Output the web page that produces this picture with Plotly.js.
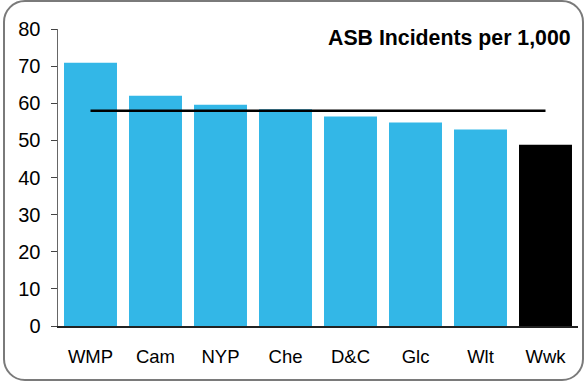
<!DOCTYPE html>
<html>
<head>
<meta charset="utf-8">
<script src="https://cdn.plot.ly/plotly-3.0.1.min.js"></script>
<style>
html,body{margin:0;padding:0;background:#fff;}
#wrap{position:relative;width:585px;height:382px;}
#chart{position:absolute;left:0;top:0;width:585px;height:382px;}
#frame{position:absolute;left:3px;top:0px;width:581px;height:381px;box-sizing:border-box;border:2px solid #7a7a7a;border-radius:22px;pointer-events:none;}
</style>
</head>
<body>
<div id="wrap"><div id="chart"></div><div id="frame"></div></div>
<script>
const categories = ["WMP","Cam","NYP","Che","D&C","Glc","Wlt","Wwk"];
const incidents = [70.9, 62.0, 59.6, 58.4, 56.4, 54.8, 52.9, 48.8];
const averageLine = [58, 58, 58, 58, 58, 58, 58, 58];
const barColors = ["#33B7E7","#33B7E7","#33B7E7","#33B7E7","#33B7E7","#33B7E7","#33B7E7","#000000"];
const yTicks = [0,10,20,30,40,50,60,70,80];
const titleText = "ASB Incidents per 1,000";

const traces = [
  {type:"bar", x:categories, y:incidents, marker:{color:barColors, line:{width:0}}, hoverinfo:"skip"},
  {type:"scatter", mode:"lines", x:categories, y:averageLine, line:{color:"#000000", width:2.5}, hoverinfo:"skip"}
];

const layout = {
  width:585, height:382,
  margin:{l:58, r:7, t:29, b:56},
  paper_bgcolor:"rgba(0,0,0,0)", plot_bgcolor:"rgba(0,0,0,0)",
  showlegend:false,
  bargap:0.185,
  font:{family:"Liberation Sans, Arial, sans-serif", color:"#000"},
  xaxis:{
    type:"category", showgrid:false, zeroline:false,
    showline:true, linecolor:"#222", linewidth:1.5,
    ticks:"", tickfont:{size:18.5, color:"#000"}, ticklabelstandoff:13,
    fixedrange:true
  },
  yaxis:{
    range:[0,80], tickvals:yTicks, showgrid:false, zeroline:false,
    showline:true, linecolor:"#666", linewidth:1.5,
    ticks:"outside", ticklen:6, tickcolor:"#444", tickwidth:1,
    tickfont:{size:20, color:"#000"}, ticklabelstandoff:6,
    fixedrange:true
  },
  annotations:[{
    text:"<b>"+titleText+"</b>", xref:"paper", yref:"y", x:1, y:77.6,
    xanchor:"right", yanchor:"middle", xshift:-5, showarrow:false,
    font:{size:21.3, color:"#000", family:"Liberation Sans, Arial, sans-serif"}
  }]
};

Plotly.newPlot("chart", traces, layout, {displayModeBar:false, staticPlot:true});
</script>
</body>
</html>
